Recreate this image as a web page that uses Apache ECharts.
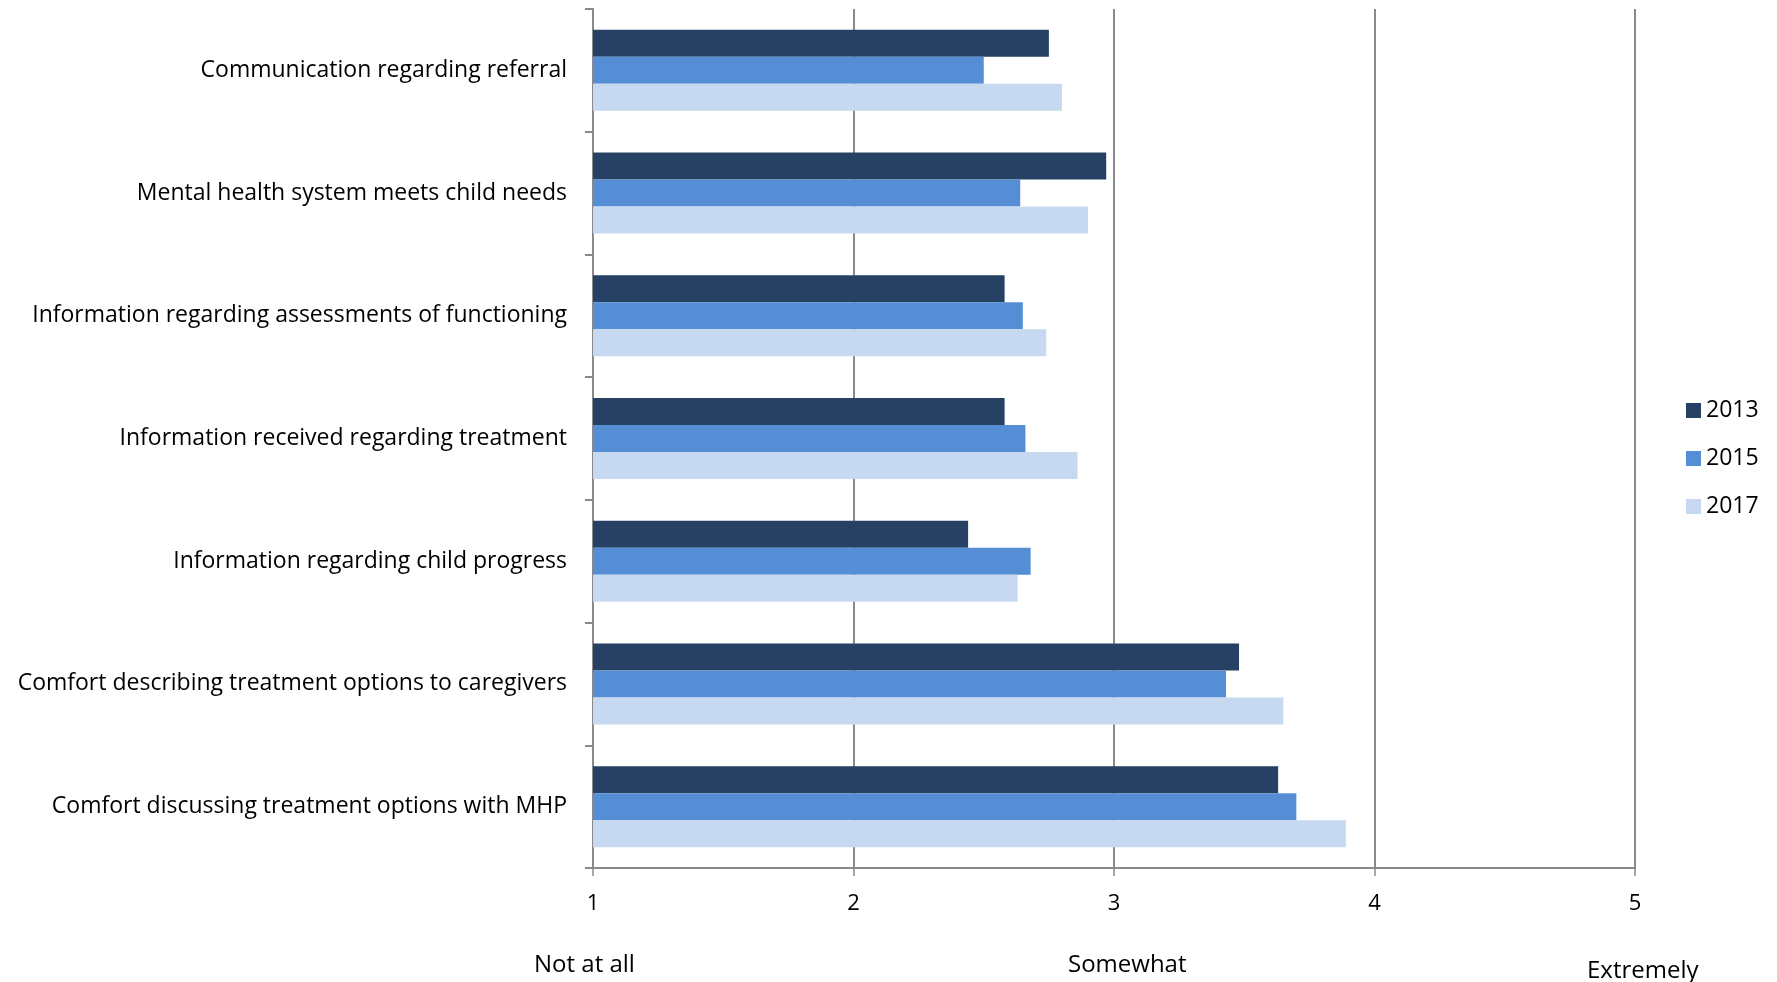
<!DOCTYPE html>
<html>
<head>
<meta charset="utf-8">
<script src="https://cdn.jsdelivr.net/npm/echarts@6/dist/echarts.min.js"></script>
<style>
  html, body { margin: 0; padding: 0; background: #fff; }
  #chart { width: 1777px; height: 982px; }
</style>
</head>
<body>
<div id="chart"></div>
<script>
// Survey items, listed top to bottom
const categories = [
  'Communication regarding referral',
  'Mental health system meets child needs',
  'Information regarding assessments of functioning',
  'Information received regarding treatment',
  'Information regarding child progress',
  'Comfort describing treatment options to caregivers',
  'Comfort discussing treatment options with MHP'
];

// Mean rating per item and survey year (1–5 scale)
const years = ['2013', '2015', '2017'];
const values2013 = [2.75, 2.97, 2.58, 2.58, 2.44, 3.48, 3.63];
const values2015 = [2.50, 2.64, 2.65, 2.66, 2.68, 3.43, 3.70];
const values2017 = [2.80, 2.90, 2.74, 2.86, 2.63, 3.65, 3.89];

// Rating scale ticks and verbal anchors
const scaleTicks = [1, 2, 3, 4, 5];
const anchorLabels = ['Not at all', 'Somewhat', 'Extremely'];

const FONT = '"Open Sans", "Noto Sans", sans-serif';
const GRAY = '#8a8a8a';
const colors = ['#264163', '#558ED5', '#C6D9F1'];

const chart = echarts.init(document.getElementById('chart'), null, { renderer: 'canvas' });

const seriesValues = [values2013, values2015, values2017];

chart.setOption({
  animation: false,
  backgroundColor: '#ffffff',
  textStyle: { fontFamily: FONT, color: '#000' },
  grid: { left: 593, right: 1777 - 1635, top: 9, bottom: 982 - 868, containLabel: false },
  legend: {
    orient: 'vertical',
    left: 1681,
    top: 394,
    itemWidth: 15,
    itemHeight: 15,
    itemGap: 25,
    icon: 'rect',
    textStyle: { fontFamily: FONT, fontSize: 23, color: '#000', padding: [0, 0, 0, 0] },
    data: years
  },
  xAxis: {
    type: 'value',
    min: scaleTicks[0],
    max: scaleTicks[scaleTicks.length - 1],
    interval: 1,
    axisLine: { show: true, onZero: false, lineStyle: { color: GRAY, width: 2 } },
    axisTick: { show: true, length: 8, lineStyle: { color: GRAY, width: 1.5 } },
    axisLabel: { fontFamily: FONT, fontSize: 22, color: '#000', margin: 25 },
    splitLine: { show: true, lineStyle: { color: GRAY, width: 2 } }
  },
  yAxis: {
    type: 'category',
    inverse: true,
    data: categories,
    axisLine: { show: true, lineStyle: { color: GRAY, width: 2 } },
    axisTick: { show: true, length: 8, lineStyle: { color: GRAY, width: 2 } },
    axisLabel: { fontFamily: FONT, fontSize: 23, color: '#000', margin: 26 },
    splitLine: { show: false }
  },
  series: years.map((y, i) => ({
    name: y,
    type: 'bar',
    data: seriesValues[i],
    barGap: '0%',
    barCategoryGap: '34%',
    itemStyle: { color: colors[i] }
  })),
  graphic: [
    { type: 'text', left: 534, top: 953, style: { text: anchorLabels[0], font: '24px ' + FONT, fill: '#000' } },
    { type: 'text', left: 1068, top: 953, style: { text: anchorLabels[1], font: '24px ' + FONT, fill: '#000' } },
    { type: 'text', left: 1587, top: 959, style: { text: anchorLabels[2], font: '24px ' + FONT, fill: '#000' } }
  ]
});
</script>
</body>
</html>
